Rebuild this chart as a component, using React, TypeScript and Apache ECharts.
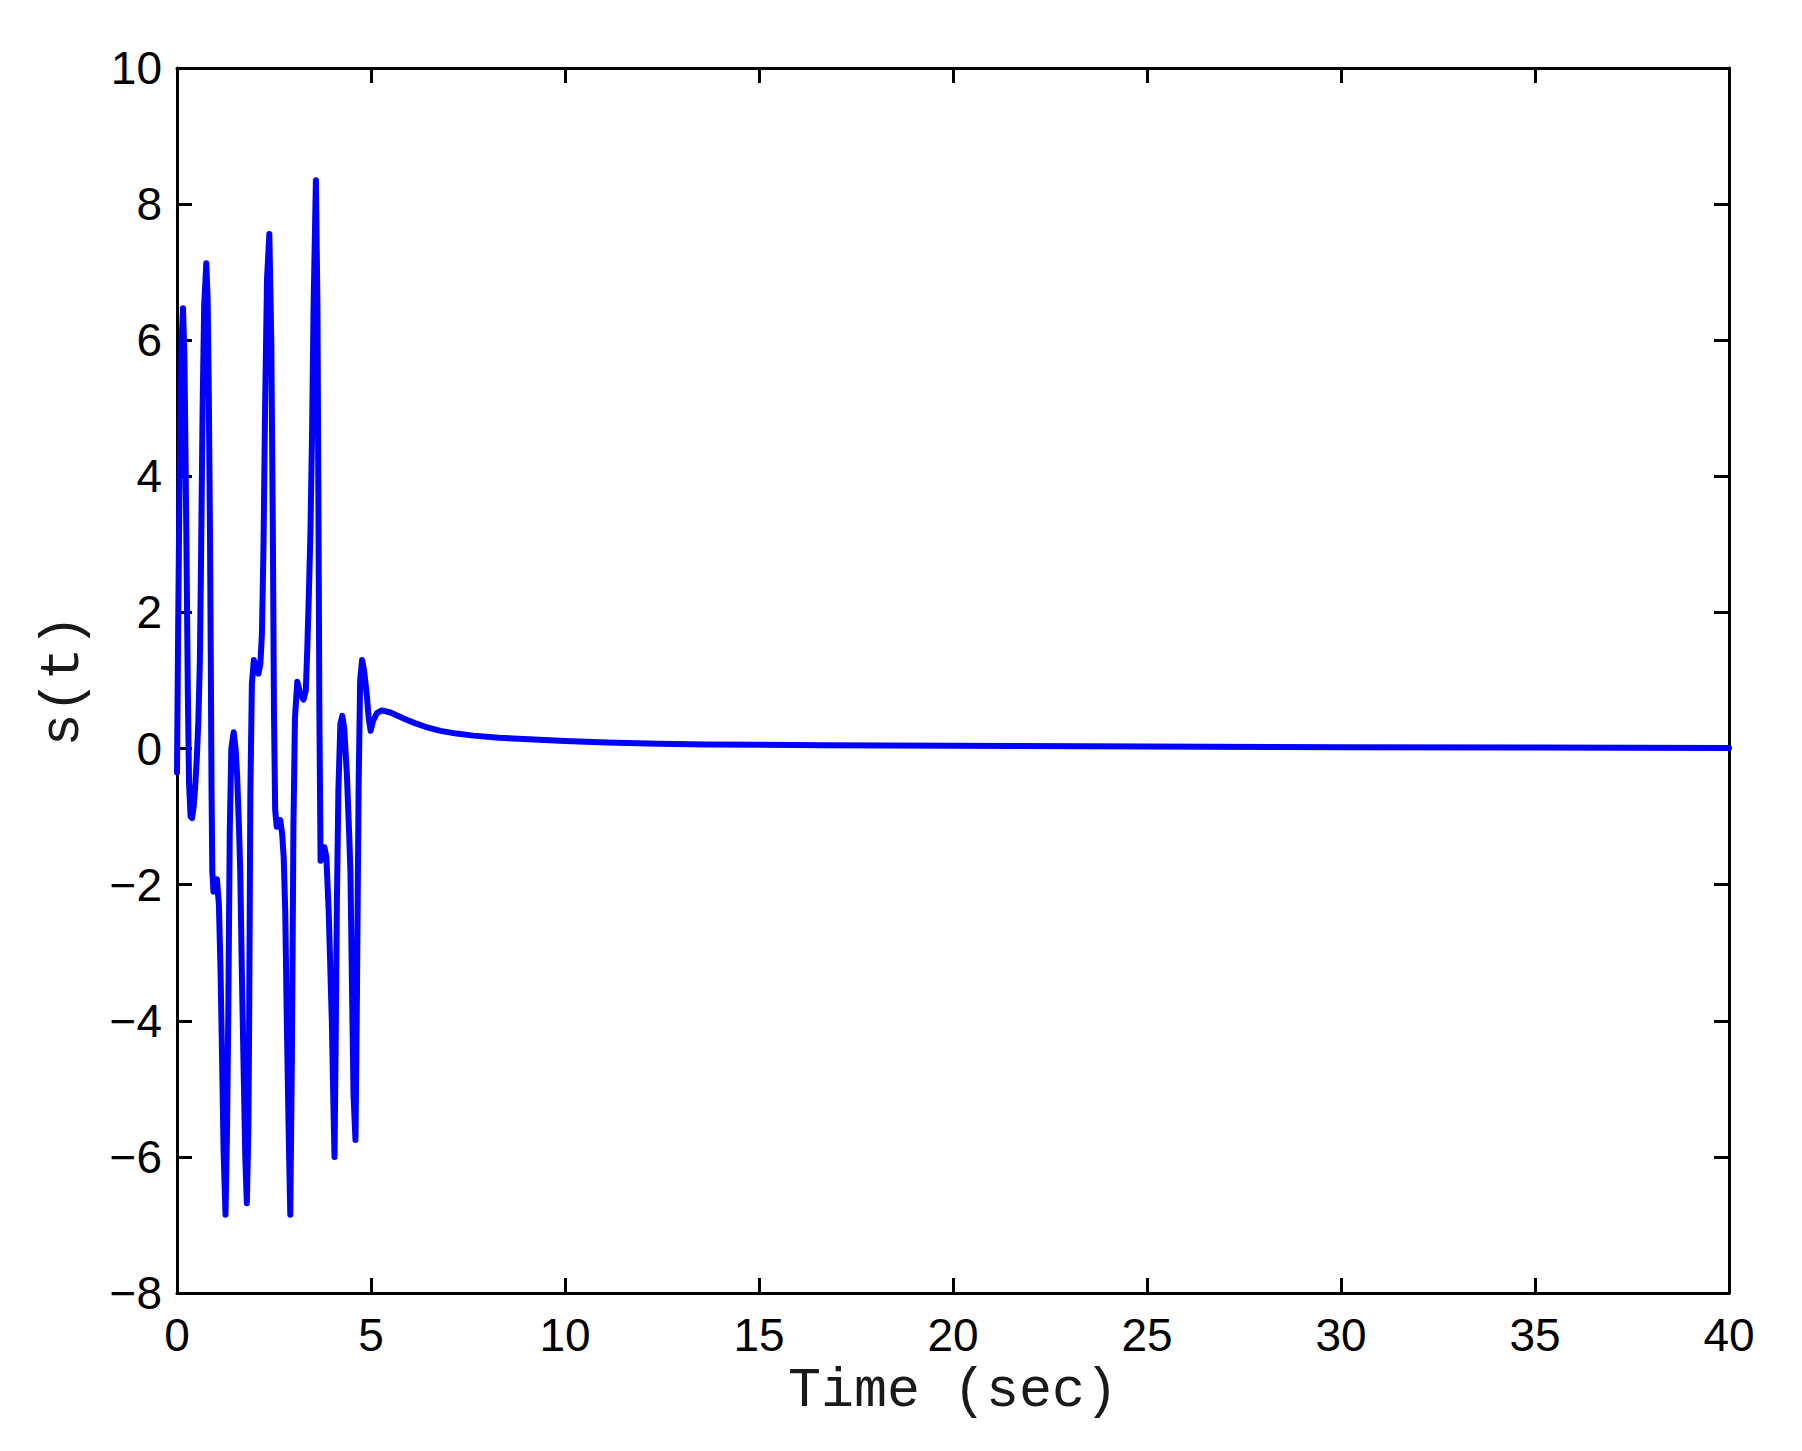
import React, { useEffect, useRef } from "react";
import * as echarts from "echarts";

const xTicks = { min: 0, max: 40, interval: 5 };
const yTicks = { min: -8, max: 10, interval: 2 };

const times: number[] = [
  0.0, 0.03, 0.06, 0.09, 0.12, 0.155, 0.19, 0.22, 0.25, 0.28, 0.31, 0.35, 0.39, 0.43, 0.47, 0.51,
  0.55, 0.59, 0.62, 0.66, 0.7, 0.755, 0.79, 0.82, 0.85, 0.87, 0.89, 0.91, 0.94, 0.98, 1.03, 1.08,
  1.12, 1.16, 1.2, 1.25, 1.29, 1.32, 1.36, 1.4, 1.46, 1.51, 1.55, 1.6, 1.63, 1.675, 1.72, 1.76,
  1.8, 1.84, 1.86, 1.89, 1.93, 1.98, 2.04, 2.1, 2.15, 2.19, 2.23, 2.27, 2.32, 2.38, 2.43, 2.47,
  2.5, 2.53, 2.57, 2.62, 2.66, 2.71, 2.75, 2.79, 2.83, 2.88, 2.92, 2.96, 3.0, 3.04, 3.1, 3.18,
  3.26, 3.32, 3.36, 3.4, 3.44, 3.48, 3.52, 3.58, 3.62, 3.65, 3.67, 3.7, 3.75, 3.8, 3.85, 3.91,
  3.99, 4.03, 4.06, 4.09, 4.12, 4.16, 4.21, 4.26, 4.31, 4.38, 4.44, 4.47, 4.51, 4.55, 4.6, 4.64,
  4.68, 4.72, 4.77, 4.82, 4.89, 4.94, 4.99, 5.05, 5.15, 5.28, 5.5, 5.7, 5.93, 6.15, 6.4, 6.79,
  7.2, 7.64, 8.3, 8.93, 10.0, 11.07, 12.4, 13.65, 16.65, 20, 25, 30, 35, 40,
];

const sValues: number[] = [
  -0.35, 1.8, 3.6, 5.0, 6.0, 6.47, 5.8, 4.3, 2.6, 0.8, -0.5, -1.0, -1.02, -0.85, -0.55, -0.15,
  0.4, 1.3, 2.8, 5.0, 6.5, 7.13, 6.6, 5.2, 3.2, 1.4, -0.6, -1.8, -2.1, -2.0, -1.92, -2.3,
  -3.2, -4.5, -5.9, -6.85, -5.6, -4.0, -1.2, 0.0, 0.24, 0.0, -0.4, -1.2, -1.8, -3.4, -4.8, -6.0,
  -6.68, -5.6, -4.0, -0.7, 0.95, 1.3, 1.2, 1.1, 1.25, 1.7, 3.0, 5.0, 6.9, 7.56, 6.0, 3.2,
  0.5, -0.9, -1.15, -1.05, -1.05, -1.25, -1.6, -2.4, -4.0, -5.7, -6.85, -4.6, -1.2, 0.45, 0.98, 0.8,
  0.72, 0.85, 1.5, 2.3, 3.2, 4.6, 6.5, 8.35, 6.5, 3.0, 0.5, -1.65, -1.6, -1.45, -1.6, -2.4,
  -4.0, -5.2, -6.0, -4.3, -2.3, -0.6, 0.36, 0.48, 0.3, -0.4, -1.3, -1.8, -3.5, -5.1, -5.75, -3.5,
  -0.6, 1.0, 1.3, 1.15, 0.8, 0.45, 0.26, 0.4, 0.52, 0.56, 0.53, 0.48, 0.42, 0.37, 0.32, 0.26,
  0.22, 0.19, 0.16, 0.14, 0.11, 0.09, 0.07, 0.06, 0.05, 0.04, 0.03, 0.02, 0.015, 0.01,
];

const xTitle = "Time (sec)";
const yTitle = "s(t)";

export default function App() {
  const ref = useRef<HTMLDivElement>(null);

  useEffect(() => {
    if (!ref.current) return;
    const chart = echarts.init(ref.current, null, { renderer: "svg" });
    const labelFont = {
      fontFamily: "'Liberation Sans', Arial, sans-serif",
      fontSize: 46,
      color: "#000",
    };
    const axisLine = { show: true, onZero: false, lineStyle: { color: "#000", width: 3 } };
    const axisTick = { show: true, inside: true, length: 15, lineStyle: { color: "#000", width: 3 } };
    const fmt = (v: number) => String(v).replace("-", "\u2212");
    const titleStyle = {
      fontFamily: "'Liberation Mono', 'Courier New', monospace",
      fontSize: 55,
      color: "#1a1a1a",
    };

    chart.setOption({
      animation: false,
      backgroundColor: "#fff",
      grid: { left: 177, right: 73, top: 68, bottom: 158, containLabel: false },
      xAxis: [
        {
          type: "value",
          position: "bottom",
          min: xTicks.min,
          max: xTicks.max,
          interval: xTicks.interval,
          axisLine,
          axisTick,
          splitLine: { show: false },
          axisLabel: { ...labelFont, margin: 19, formatter: fmt },
          name: xTitle,
          nameLocation: "middle",
          nameGap: 71,
          nameTextStyle: titleStyle,
        },
        {
          type: "value",
          position: "top",
          min: xTicks.min,
          max: xTicks.max,
          interval: xTicks.interval,
          axisLine,
          axisTick,
          splitLine: { show: false },
          axisLabel: { show: false },
        },
      ],
      yAxis: [
        {
          type: "value",
          position: "left",
          min: yTicks.min,
          max: yTicks.max,
          interval: yTicks.interval,
          axisLine,
          axisTick,
          splitLine: { show: false },
          axisLabel: { ...labelFont, margin: 15, formatter: fmt },
          name: yTitle,
          nameLocation: "middle",
          nameGap: 86,
          nameTextStyle: titleStyle,
        },
        {
          type: "value",
          position: "right",
          min: yTicks.min,
          max: yTicks.max,
          interval: yTicks.interval,
          axisLine,
          axisTick,
          splitLine: { show: false },
          axisLabel: { show: false },
        },
      ],
      series: [
        {
          type: "line",
          xAxisIndex: 0,
          yAxisIndex: 0,
          data: times.map((t, i) => [t, sValues[i]]),
          showSymbol: false,
          smooth: false,
          lineStyle: { color: "#0000ff", width: 6, join: "round", cap: "round" },
          itemStyle: { color: "#0000ff" },
        },
      ],
    });
    return () => chart.dispose();
  }, []);

  return (
    <div
      ref={ref}
      style={{ position: "absolute", left: 0, top: 0, width: 1802, height: 1451 }}
    />
  );
}
